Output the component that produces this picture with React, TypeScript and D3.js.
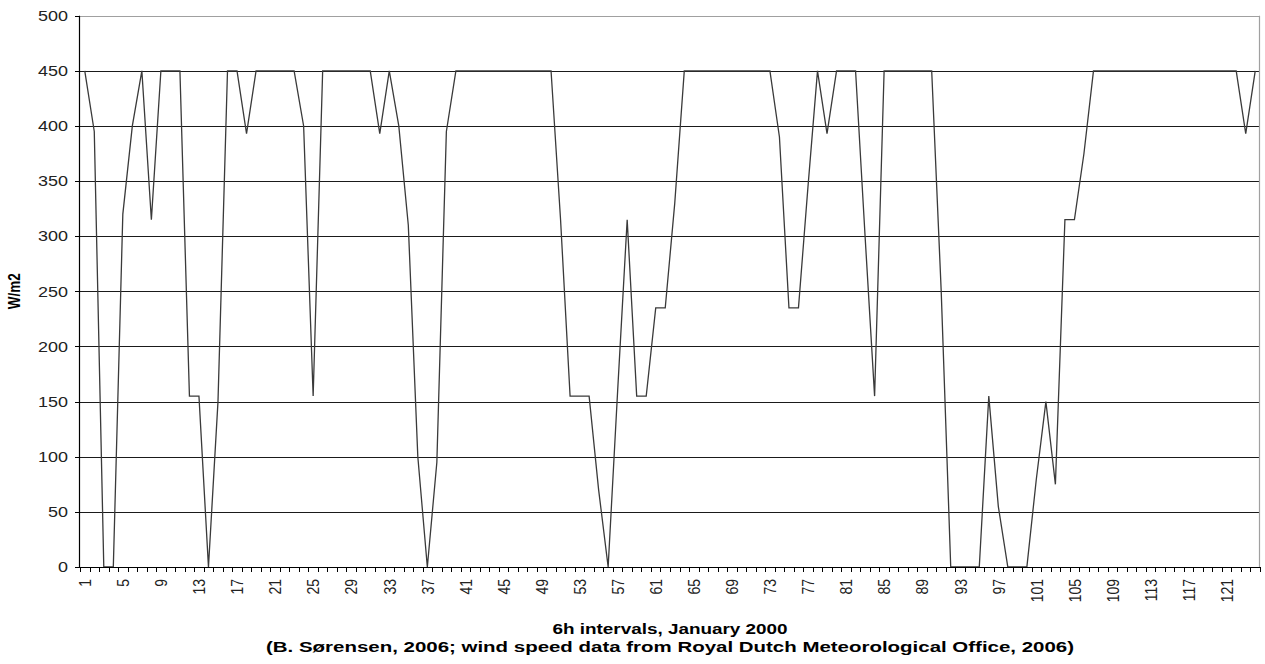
import React from "react";
import * as d3 from "d3";

const categories: number[] = Array.from({ length: 124 }, (_, i) => i + 1);

const power: number[] = [
  450, 395, 0, 0, 320, 400, 450, 315, 450, 450,
  450, 155, 155, 0, 150, 450, 450, 393, 450, 450,
  450, 450, 450, 400, 155, 450, 450, 450, 450, 450,
  450, 393, 450, 400, 310, 100, 0, 95, 395, 450,
  450, 450, 450, 450, 450, 450, 450, 450, 450, 450,
  315, 155, 155, 155, 70, 0, 160, 315, 155, 155,
  235, 235, 330, 450, 450, 450, 450, 450, 450, 450,
  450, 450, 450, 390, 235, 235, 345, 450, 393, 450,
  450, 450, 300, 155, 450, 450, 450, 450, 450, 450,
  250, 0, 0, 0, 0, 155, 55, 0, 0, 0,
  80, 150, 75, 315, 315, 375, 450, 450, 450, 450,
  450, 450, 450, 450, 450, 450, 450, 450, 450, 450,
  450, 450, 393, 450,
];

const yTicks: number[] = [0, 50, 100, 150, 200, 250, 300, 350, 400, 450, 500];
const xTickLabels: number[] = categories.filter((c) => (c - 1) % 4 === 0);

const yTitle = "W/m2";
const xTitle1 = "6h intervals, January 2000";
const xTitle2 = "(B. Sørensen, 2006; wind speed data from Royal Dutch Meteorological Office, 2006)";

const W = 1265;
const H = 664;
const left = 80;
const right = 1260;
const top = 15.7;
const bottom = 567;
const FONT = "'Liberation Sans', Arial, sans-serif";
const SX = 1.24;

export default function App() {
  const x = d3.scaleBand<number>().domain(categories).range([left, right]).padding(0);
  const y = d3.scaleLinear().domain([0, 500]).range([bottom, top]);
  const cx = (c: number) => (x(c) as number) + x.bandwidth() / 2;

  const line = d3
    .line<number>()
    .x((_, i) => cx(categories[i]))
    .y((d) => y(d));

  const bandEdges = categories.map((c) => x(c) as number).concat([right]);

  return (
    <div>
      <style>{"body{margin:0;background:#fff}"}</style>
      <svg width={W} height={H} style={{ display: "block" }} fontFamily={FONT}>
        <rect x={0} y={0} width={W} height={H} fill="#fff" />
        {yTicks
          .filter((t) => t > 0 && t < 500)
          .map((t) => (
            <line
              key={"g" + t}
              x1={left}
              x2={right}
              y1={Math.round(y(t)) + 0.5}
              y2={Math.round(y(t)) + 0.5}
              stroke="#1a1a1a"
              strokeWidth={1}
            />
          ))}
        <line x1={left} x2={right} y1={Math.round(top) + 0.5} y2={Math.round(top) + 0.5} stroke="#a0a0a0" strokeWidth={1.2} />
        <line x1={right - 0.5} x2={right - 0.5} y1={top} y2={bottom} stroke="#a0a0a0" strokeWidth={1.2} />
        <path d={line(power) || ""} fill="none" stroke="#3a3a3a" strokeWidth={1.3} strokeLinejoin="miter" />
        <line x1={left - 0.5} x2={left - 0.5} y1={top} y2={bottom} stroke="#000" strokeWidth={1.2} />
        {yTicks.map((t) => (
          <g key={"yt" + t}>
            <line x1={left - 5} x2={left} y1={Math.round(y(t)) + 0.5} y2={Math.round(y(t)) + 0.5} stroke="#000" strokeWidth={1} />
            <text
              transform={`translate(${left - 12},${y(t)}) scale(${SX},1)`}
              textAnchor="end"
              dy="0.36em"
              fontSize={14.5}
              fill="#222"
            >
              {t}
            </text>
          </g>
        ))}
        <line x1={left - 1} x2={right} y1={bottom + 0.5} y2={bottom + 0.5} stroke="#000" strokeWidth={1.2} />
        {bandEdges.map((e, i) => (
          <line key={"xt" + i} x1={Math.round(e) + 0.5} x2={Math.round(e) + 0.5} y1={bottom} y2={bottom + 5} stroke="#000" strokeWidth={1} />
        ))}
        {xTickLabels.map((c) => (
          <text
            key={"xl" + c}
            transform={`translate(${cx(c)},${bottom + 12}) scale(${SX},1) rotate(-90)`}
            textAnchor="end"
            dy="0.36em"
            fontSize={14}
            fill="#222"
          >
            {c}
          </text>
        ))}
        <text
          transform={`translate(20,${(top + bottom) / 2}) scale(${SX},1) rotate(-90)`}
          textAnchor="middle"
          fontSize={13.5}
          fontWeight="bold"
          fill="#000"
        >
          {yTitle}
        </text>
        <text
          transform={`translate(${(left + right) / 2},634) scale(1.22,1)`}
          textAnchor="middle"
          fontSize={15.5}
          fontWeight="bold"
          fill="#000"
        >
          {xTitle1}
        </text>
        <text
          transform={`translate(${(left + right) / 2},652) scale(1.32,1)`}
          textAnchor="middle"
          fontSize={15.5}
          fontWeight="bold"
          fill="#000"
        >
          {xTitle2}
        </text>
      </svg>
    </div>
  );
}
